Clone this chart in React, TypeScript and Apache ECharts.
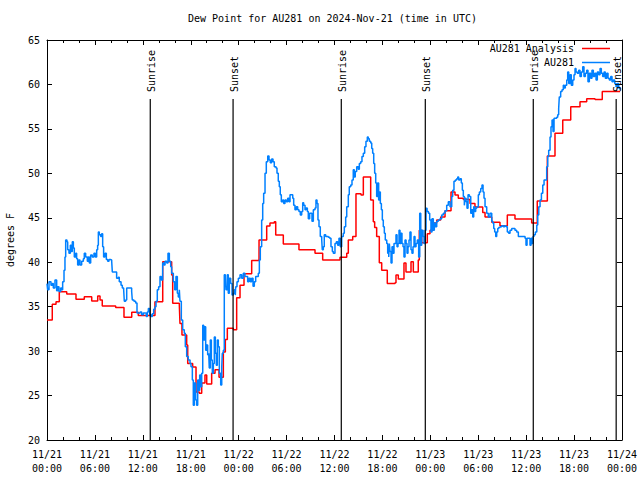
import React, { useEffect, useRef } from "react";
import * as echarts from "echarts";

const titleText = "Dew Point for AU281 on 2024-Nov-21 (time in UTC)";
const yAxisTitle = "degrees F";
const dayLabels = ["11/21", "11/22", "11/23", "11/24"];
const seriesNames = ["AU281 Analysis", "AU281"];

// hours since 11/21 00:00 UTC, dew point (F) — analysis (stepped)
const analysisPoints: [number, number][] = [
  [0, 33.5], [0.66, 35.27], [1.13, 35.56], [1.54, 36.69], [2.47, 36.43], [3.63, 35.83],
  [4.67, 36.12], [5.6, 35.64], [6.35, 36.2], [6.64, 35.75], [6.92, 35.07], [8.6, 34.9],
  [9.64, 33.8], [10.61, 34.37], [11.43, 34.0], [13.52, 35.56], [14.49, 40.05], [15.61, 38.56],
  [15.74, 35.38], [16.57, 35.19], [16.65, 33.1], [16.9, 31.8], [17.49, 30.7], [17.62, 28.6],
  [18.24, 28.2], [18.66, 25.4], [19.07, 25.25], [19.37, 26.4], [19.78, 27.3], [20.0, 26.3],
  [20.62, 27.5], [21.04, 27.9], [21.54, 27.05], [22.08, 29.9], [22.33, 31.3], [22.58, 32.56],
  [23.33, 32.4], [23.75, 36.0], [24.17, 37.4], [24.67, 38.7], [25.63, 40.2], [26.55, 42.5],
  [27.51, 44.07], [27.92, 44.4], [28.46, 44.56], [28.64, 43.06], [29.59, 42.05], [31.55, 41.4],
  [33.56, 41.0], [34.52, 40.25], [36.69, 40.55], [37.53, 41.0], [37.73, 42.5], [38.28, 42.9],
  [38.69, 47.7], [39.32, 47.56], [39.61, 49.6], [40.53, 47.0], [40.86, 44.56], [41.03, 43.9],
  [41.28, 42.9], [41.61, 39.95], [41.91, 39.1], [42.61, 37.6], [43.58, 37.7], [43.7, 38.56],
  [43.99, 38.1], [44.7, 39.9], [44.95, 38.9], [45.58, 40.06], [45.87, 38.9], [46.49, 40.25],
  [46.62, 43.6], [46.92, 42.2], [47.62, 43.2], [47.96, 43.6], [48.37, 44.4], [48.8, 44.75],
  [49.3, 45.1], [49.84, 45.8], [50.59, 47.9], [51.09, 47.56], [51.5, 47.2], [52.13, 47.07],
  [52.97, 46.6], [53.59, 46.2], [54.56, 45.6], [54.85, 45.1], [55.69, 44.5], [56.72, 44.1],
  [57.64, 45.3], [58.6, 44.86], [60.69, 44.4], [61.39, 46.9], [62.65, 51.95], [63.61, 54.5],
  [64.58, 56.0], [65.58, 57.5], [66.74, 58.06], [67.58, 58.4], [68.62, 58.3], [69.53, 59.2],
  [71.75, 59.2],
];

// hours since 11/21 00:00 UTC, dew point (F) — observations
const obsPoints: [number, number][] = [
  [0, 37.6], [0.08, 36.9], [0.25, 37.8], [0.5, 37.4], [0.67, 37.6], [0.79, 37.1], [1.0, 38.0],
  [1.21, 36.8], [1.33, 37.25], [1.5, 36.7], [1.71, 37.1], [1.83, 36.9], [1.96, 37.8], [2.13, 39.1],
  [2.25, 40.6], [2.34, 42.5], [2.5, 42.3], [2.59, 41.4], [2.75, 41.0], [2.92, 41.9], [3.05, 41.2],
  [3.17, 42.3], [3.3, 41.6], [3.42, 40.6], [3.59, 41.0], [3.71, 40.4], [3.84, 39.7], [4.0, 40.25],
  [4.13, 39.7], [4.34, 40.1], [4.55, 40.4], [4.67, 41.0], [4.84, 40.6], [5.05, 40.1], [5.17, 40.6],
  [5.3, 39.9], [5.47, 40.8], [5.67, 40.6], [5.88, 41.0], [6.05, 40.6], [6.22, 41.4], [6.34, 41.9],
  [6.43, 43.4], [6.55, 43.1], [6.72, 42.9], [6.84, 43.2], [6.97, 41.75], [7.09, 40.6], [7.26, 41.0],
  [7.43, 40.3], [7.6, 40.1], [7.76, 40.3], [7.93, 40.25], [8.1, 40.1], [8.18, 38.9], [8.51, 38.9],
  [8.72, 38.2], [8.93, 38.3], [9.05, 37.8], [9.27, 37.4], [9.43, 37.1], [9.6, 36.9], [9.68, 35.6],
  [9.85, 35.75], [9.98, 37.1], [10.39, 37.1], [10.6, 36.7], [10.68, 35.75], [10.89, 35.6], [11.1, 35.4],
  [11.27, 34.3], [11.52, 34.25], [11.65, 34.4], [11.86, 34.1], [12.06, 34.3], [12.27, 34.25], [12.43, 33.9],
  [12.56, 34.4], [12.69, 34.8], [12.86, 34.1], [13.02, 33.9], [13.19, 34.2], [13.36, 34.7], [13.52, 35.0],
  [13.65, 35.6], [13.81, 36.9], [13.98, 37.25], [14.15, 38.4], [14.31, 38.0], [14.48, 39.9], [14.65, 39.7],
  [14.78, 40.1], [14.99, 39.9], [15.15, 41.0], [15.32, 40.1], [15.49, 39.5], [15.61, 38.75], [15.82, 37.8],
  [15.99, 36.9], [16.15, 38.4], [16.32, 36.5], [16.44, 36.1], [16.57, 36.9], [16.65, 35.6], [16.82, 33.5],
  [16.99, 32.4], [17.19, 32.0], [17.32, 30.5], [17.49, 29.4], [17.69, 29.0], [17.91, 28.6], [18.03, 28.25],
  [18.2, 26.75], [18.32, 23.9], [18.45, 26.4], [18.62, 24.5], [18.74, 23.9], [18.87, 26.75], [19.0, 25.6],
  [19.12, 27.3], [19.25, 26.0], [19.37, 27.5], [19.5, 32.9], [19.62, 31.25], [19.75, 32.75], [19.87, 30.1],
  [20.0, 30.7], [20.12, 29.6], [20.25, 29.75], [20.32, 28.1], [20.45, 31.25], [20.58, 29.0], [20.7, 27.5],
  [20.83, 28.6], [20.95, 31.6], [21.08, 29.75], [21.2, 28.4], [21.33, 31.25], [21.45, 30.5], [21.58, 27.5],
  [21.75, 26.2], [21.88, 28.25], [21.95, 29.75], [22.08, 30.1], [22.2, 38.6], [22.33, 38.4], [22.41, 36.9],
  [22.58, 38.6], [22.7, 36.5], [22.83, 38.2], [23.0, 37.6], [23.17, 36.3], [23.33, 36.5], [23.45, 36.9],
  [23.58, 36.3], [23.63, 37.25], [23.79, 37.8], [23.96, 38.2], [24.17, 38.6], [24.38, 38.2], [24.58, 38.75],
  [24.79, 38.4], [25.0, 38.4], [25.13, 37.8], [25.29, 38.2], [25.46, 37.8], [25.63, 38.2], [25.8, 37.3],
  [25.96, 37.8], [26.13, 38.4], [26.34, 38.4], [26.46, 38.75], [26.59, 40.25], [26.71, 41.75], [26.88, 44.75],
  [27.01, 46.6], [27.13, 47.75], [27.3, 50.0], [27.46, 51.3], [27.64, 51.95], [27.8, 51.5], [27.96, 51.2],
  [28.13, 51.6], [28.3, 51.3], [28.46, 50.75], [28.68, 50.6], [28.8, 50.0], [28.96, 49.1], [29.09, 48.5],
  [29.21, 47.6], [29.34, 46.8], [29.51, 47.0], [29.64, 46.6], [29.8, 47.0], [29.97, 46.8], [30.14, 47.2],
  [30.3, 46.8], [30.43, 47.6], [30.59, 47.6], [30.77, 47.2], [30.89, 46.4], [31.05, 45.9], [31.22, 46.25],
  [31.39, 45.9], [31.55, 45.7], [31.72, 45.3], [31.89, 45.7], [32.02, 46.7], [32.14, 46.4], [32.31, 45.9],
  [32.43, 46.1], [32.6, 45.7], [32.72, 44.9], [32.89, 45.5], [33.06, 45.5], [33.18, 44.6], [33.35, 45.9],
  [33.56, 46.1], [33.68, 47.0], [33.81, 46.6], [33.93, 44.75], [34.06, 44.0], [34.22, 42.9], [34.4, 42.5],
  [34.47, 41.4], [34.6, 41.75], [34.72, 43.1], [34.9, 42.9], [35.06, 42.9], [35.22, 42.8], [35.4, 42.7],
  [35.56, 41.75], [35.73, 41.2], [35.85, 41.0], [36.06, 42.1], [36.23, 42.3], [36.4, 41.9], [36.56, 42.7],
  [36.73, 41.75], [36.9, 42.9], [37.1, 43.25], [37.23, 44.0], [37.4, 45.1], [37.53, 46.25], [37.73, 47.6],
  [37.85, 48.5], [38.03, 48.7], [38.19, 49.25], [38.35, 50.4], [38.48, 49.6], [38.6, 50.2], [38.78, 50.75],
  [38.98, 50.45], [39.11, 51.1], [39.28, 51.3], [39.44, 51.9], [39.61, 52.25], [39.78, 53.0], [39.94, 53.6],
  [40.11, 54.1], [40.23, 53.9], [40.36, 53.6], [40.53, 53.4], [40.66, 52.8], [40.78, 52.25], [40.91, 51.1],
  [41.03, 50.0], [41.16, 48.9], [41.28, 47.4], [41.41, 48.9], [41.53, 47.0], [41.62, 47.9], [41.74, 46.6],
  [41.87, 45.9], [41.99, 44.75], [42.11, 44.0], [42.24, 43.25], [42.36, 42.5], [42.54, 42.1], [42.66, 41.0],
  [42.79, 40.6], [42.87, 42.1], [42.95, 41.2], [43.08, 39.9], [43.2, 41.75], [43.33, 41.0], [43.45, 42.1],
  [43.58, 42.1], [43.7, 43.1], [43.83, 41.75], [43.95, 42.1], [44.08, 43.6], [44.2, 42.1], [44.33, 43.25],
  [44.45, 42.1], [44.58, 41.75], [44.7, 40.6], [44.83, 42.5], [44.96, 42.1], [45.08, 41.0], [45.2, 41.75],
  [45.33, 42.5], [45.45, 43.4], [45.58, 41.4], [45.7, 41.0], [45.83, 41.75], [45.96, 42.9], [46.08, 41.75],
  [46.21, 42.1], [46.37, 42.5], [46.54, 40.6], [46.67, 45.5], [46.8, 41.9], [46.92, 43.6], [47.09, 42.9],
  [47.21, 42.1], [47.34, 43.6], [47.46, 46.06], [47.59, 45.7], [47.76, 45.5], [47.92, 44.75], [48.08, 43.4],
  [48.21, 44.9], [48.37, 43.6], [48.5, 44.4], [48.62, 44.0], [48.8, 44.6], [49.0, 44.75], [49.21, 44.9],
  [49.42, 45.3], [49.62, 45.5], [49.84, 45.8], [50.05, 46.4], [50.25, 46.8], [50.46, 46.25], [50.68, 47.4],
  [50.8, 48.1], [50.96, 49.1], [51.13, 49.25], [51.3, 49.4], [51.43, 49.6], [51.55, 49.25], [51.72, 49.4],
  [51.88, 48.9], [52.01, 48.1], [52.13, 47.4], [52.26, 46.4], [52.34, 47.2], [52.47, 46.8], [52.59, 46.06],
  [52.72, 47.6], [52.88, 47.4], [53.06, 45.5], [53.18, 45.9], [53.31, 45.1], [53.43, 46.25], [53.56, 45.7],
  [53.68, 46.06], [53.81, 46.2], [54.01, 47.6], [54.14, 47.9], [54.31, 48.3], [54.47, 48.7], [54.6, 47.9],
  [54.72, 47.2], [54.85, 46.25], [55.06, 45.5], [55.26, 45.1], [55.47, 45.5], [55.69, 44.6], [55.81, 44.4],
  [55.94, 43.8], [56.06, 43.4], [56.19, 42.9], [56.31, 43.4], [56.44, 43.8], [56.56, 43.9], [56.73, 44.0],
  [56.94, 44.1], [57.14, 44.0], [57.31, 44.1], [57.48, 44.0], [57.64, 43.4], [57.81, 43.25], [57.98, 43.6],
  [58.19, 43.8], [58.4, 43.8], [58.6, 43.6], [58.81, 43.4], [59.02, 42.9], [59.23, 42.9], [59.44, 42.9],
  [59.65, 42.9], [59.86, 42.7], [59.98, 41.9], [60.11, 42.7], [60.27, 42.7], [60.48, 41.9], [60.61, 42.7],
  [60.73, 42.1], [60.86, 42.9], [60.98, 43.1], [61.15, 43.4], [61.33, 44.2], [61.45, 45.3], [61.58, 46.25],
  [61.74, 47.0], [61.91, 47.75], [62.08, 48.7], [62.24, 49.25], [62.57, 50.75], [62.7, 51.9], [62.82, 52.6],
  [62.99, 54.1], [63.11, 55.25], [63.24, 56.0], [63.36, 54.7], [63.49, 56.2], [63.65, 56.2], [63.82, 56.3],
  [63.95, 56.6], [64.07, 57.3], [64.15, 58.6], [64.32, 59.2], [64.49, 59.4], [64.65, 59.9], [64.78, 59.6],
  [64.9, 59.9], [65.08, 60.5], [65.2, 61.4], [65.33, 60.1], [65.49, 61.1], [65.65, 59.9], [65.83, 60.5],
  [65.99, 61.1], [66.12, 61.8], [66.24, 61.4], [66.4, 61.25], [66.58, 61.6], [66.74, 60.9], [66.91, 61.4],
  [67.08, 62.0], [67.24, 60.9], [67.41, 61.25], [67.58, 61.6], [67.74, 60.3], [67.91, 61.25], [68.08, 60.7],
  [68.24, 61.6], [68.41, 60.9], [68.58, 61.25], [68.75, 60.5], [68.91, 61.4], [69.08, 61.1], [69.25, 61.8],
  [69.41, 61.25], [69.58, 60.9], [69.75, 61.4], [69.91, 60.7], [70.09, 61.25], [70.25, 60.7], [70.41, 60.5],
  [70.59, 60.9], [70.75, 60.3], [70.91, 60.5], [71.09, 60.1], [71.25, 59.75], [71.41, 60.1], [71.59, 59.6],
  [71.75, 59.4],
];

const eventTimes = [12.93, 23.3, 36.85, 47.37, 60.89, 71.27];
const eventLabels = ["Sunrise", "Sunset", "Sunrise", "Sunset", "Sunrise", "Sunset"];

const FONT = '"DejaVu Sans Mono", "Liberation Mono", monospace';
const EVENT_LINE_TOP = 58.36;

function xLabel(v: number): string {
  const day = Math.floor(v / 24 + 1e-6);
  const hr = Math.round(v - day * 24);
  return dayLabels[day] + "\n" + String(hr).padStart(2, "0") + ":00";
}

export default function App() {
  const ref = useRef<HTMLDivElement>(null);
  useEffect(() => {
    if (!ref.current) return;
    const chart = echarts.init(ref.current, undefined, { renderer: "svg" });
    const xCommon = {
      type: "value" as const,
      min: 0,
      max: 72,
      interval: 6,
      axisLine: { show: true, onZero: false, lineStyle: { color: "#000", width: 1 } },
      axisTick: { show: true, inside: true, length: 5, lineStyle: { color: "#000" } },
      minorTick: { show: true, splitNumber: 3, length: 3, lineStyle: { color: "#000" } },
      splitLine: { show: false },
    };
    const yCommon = {
      type: "value" as const,
      min: 20,
      max: 65,
      interval: 5,
      axisLine: { show: true, onZero: false, lineStyle: { color: "#000", width: 1 } },
      axisTick: { show: true, inside: true, length: 5, lineStyle: { color: "#000" } },
      splitLine: { show: false },
    };
    chart.setOption({
      animation: false,
      backgroundColor: "#fff",
      title: {
        text: titleText,
        left: 188,
        top: 13,
        padding: 0,
        textStyle: { fontFamily: FONT, fontSize: 10, fontWeight: "normal", color: "#000" },
      },
      legend: {
        data: seriesNames,
        orient: "vertical",
        right: 30,
        top: 43,
        align: "right",
        padding: 0,
        itemGap: 3,
        itemWidth: 28,
        itemHeight: 1.5,
        icon: "rect",
        textStyle: { fontFamily: FONT, fontSize: 10, color: "#000", lineHeight: 11, padding: [0, 3, 0, 0] },
      },
      grid: { left: 47, right: 18, top: 40, bottom: 40, containLabel: false, outerBoundsMode: "none" },
      xAxis: [
        {
          ...xCommon,
          position: "bottom",
          axisLabel: {
            show: true,
            fontFamily: FONT,
            fontSize: 10,
            color: "#000",
            lineHeight: 14,
            margin: 7,
            formatter: xLabel,
          },
        },
        { ...xCommon, position: "top", axisLabel: { show: false } },
      ],
      yAxis: [
        {
          ...yCommon,
          position: "left",
          name: yAxisTitle,
          nameLocation: "middle",
          nameRotate: 90,
          nameGap: 32,
          nameTextStyle: { fontFamily: FONT, fontSize: 10, color: "#000" },
          axisLabel: { show: true, fontFamily: FONT, fontSize: 10, color: "#000", margin: 7 },
        },
        { ...yCommon, position: "right", axisLabel: { show: false } },
      ],
      series: [
        {
          name: seriesNames[0],
          type: "line",
          step: "end",
          data: analysisPoints,
          showSymbol: false,
          symbol: "none",
          color: "#ff0000",
          lineStyle: { color: "#ff0000", width: 1.5 },
          z: 2,
        },
        {
          name: seriesNames[1],
          type: "line",
          step: "end",
          data: obsPoints,
          showSymbol: false,
          symbol: "none",
          color: "#0080ff",
          lineStyle: { color: "#0080ff", width: 1.5 },
          z: 3,
        },
        {
          type: "custom",
          z: 4,
          data: eventTimes.map((t) => [t, 20]),
          encode: { x: 0, y: 1 },
          renderItem: (params: any, api: any) => {
            const h = api.value(0);
            const top = api.coord([h, EVENT_LINE_TOP]);
            const bottom = api.coord([h, 20]);
            return {
              type: "group",
              children: [
                {
                  type: "line",
                  shape: { x1: top[0], y1: top[1], x2: bottom[0], y2: bottom[1] },
                  style: { stroke: "#000", lineWidth: 1.2 },
                },
                {
                  type: "text",
                  x: top[0] + 1,
                  y: top[1] - 7,
                  rotation: Math.PI / 2,
                  style: {
                    text: eventLabels[params.dataIndex],
                    fill: "#000",
                    font: "10px " + FONT,
                    align: "left",
                    verticalAlign: "middle",
                  },
                },
              ],
            };
          },
        },
      ],
    });
    return () => chart.dispose();
  }, []);
  return <div ref={ref} style={{ width: 640, height: 480, position: "absolute", left: 0, top: 0 }} />;
}
